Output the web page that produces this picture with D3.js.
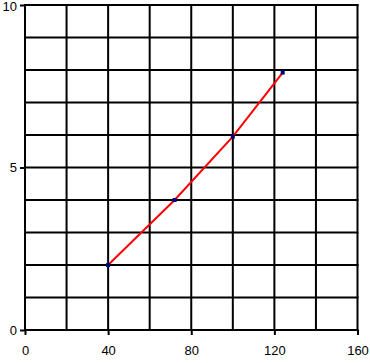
<!DOCTYPE html>
<html>
<head>
<meta charset="utf-8">
<script src="https://cdn.jsdelivr.net/npm/d3@7"></script>
<style>
body { margin: 0; background: #fff; }
svg text { font-family: "Liberation Sans", Arial, sans-serif; font-size: 13px; fill: #000; }
</style>
</head>
<body>
<div id="chart"></div>
<script>
var xValues = [40, 72, 100, 124];
var yValues = [2, 4, 5.95, 7.92];
var xTickLabels = [0, 40, 80, 120, 160];
var yTickLabels = [0, 5, 10];
var xGrid = [0, 20, 40, 60, 80, 100, 120, 140, 160];
var yGrid = [0, 1, 2, 3, 4, 5, 6, 7, 8, 9, 10];

var width = 370, height = 363;
var plotLeft = 25, plotRight = 357.5, plotTop = 5, plotBottom = 330;

var svg = d3.select("#chart").append("svg")
	.attr("width", width)
	.attr("height", height);

var x = d3.scaleLinear().domain([0, 160]).range([plotLeft, plotRight]);
var y = d3.scaleLinear().domain([0, 10]).range([plotBottom, plotTop]);

// grid
svg.append("g").selectAll("line").data(xGrid).join("line")
	.attr("x1", function(d) { return x(d); })
	.attr("x2", function(d) { return x(d); })
	.attr("y1", plotTop - 1).attr("y2", plotBottom + 1)
	.attr("stroke", "#000").attr("stroke-width", 2);
svg.append("g").selectAll("line").data(yGrid).join("line")
	.attr("y1", function(d) { return y(d); })
	.attr("y2", function(d) { return y(d); })
	.attr("x1", plotLeft - 1).attr("x2", plotRight + 1)
	.attr("stroke", "#000").attr("stroke-width", 2);

// axes
svg.append("g")
	.attr("transform", "translate(0," + plotBottom + ")")
	.call(d3.axisBottom(x).tickValues(xTickLabels).tickSize(5).tickPadding(11));
var yAxis = svg.append("g")
	.attr("transform", "translate(" + plotLeft + ",0)")
	.call(d3.axisLeft(y).tickValues(yTickLabels).tickSize(5).tickPadding(3));
svg.selectAll(".domain").remove();
svg.selectAll(".tick line").attr("stroke", "#000").attr("stroke-width", 2);
svg.selectAll(".tick text").style("font-family", "'Liberation Sans', Arial, sans-serif").style("font-size", "13px");
// keep the top label inside the page
yAxis.selectAll(".tick text").filter(function(d) { return d === 10; }).attr("y", 1.5);

var data = xValues.map(function(d, i) { return {x: d, y: yValues[i]}; });

svg.append("path")
	.datum(data)
	.attr("fill", "none")
	.attr("stroke", "#ff0000")
	.attr("stroke-width", 2)
	.attr("d", d3.line()
		.x(function(d) { return x(d.x); })
		.y(function(d) { return y(d.y); }));

svg.append("g").selectAll("rect").data(data).join("rect")
	.attr("x", function(d) { return x(d.x) - 2; })
	.attr("y", function(d) { return y(d.y) - 2; })
	.attr("width", 4).attr("height", 4)
	.attr("fill", "#000080");
</script>
</body>
</html>
